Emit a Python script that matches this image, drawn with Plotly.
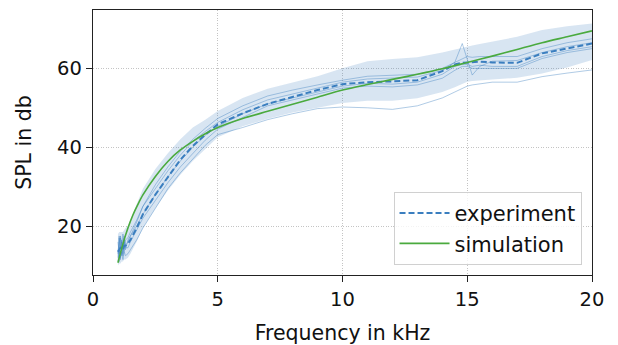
import plotly.graph_objects as go

# frequency grid (kHz) for measured data
freq = [1.0, 1.05, 1.1, 1.15, 1.2, 1.25, 1.3, 1.4, 1.5, 1.75, 2.0, 2.5, 3.0, 3.5, 4.0, 4.5,
        5.0, 6.0, 7.0, 8.0, 9.0, 10.0, 11.0, 12.0, 13.0, 14.0, 14.5, 14.8, 15.0, 15.2,
        15.5, 16.0, 17.0, 18.0, 19.0, 20.0]

# individual measurements (SPL in db)
meas_1 = [12.0, 17.5, 11.5, 16.0, 12.5, 17.0, 14.0, 16.5, 17.5, 21.0, 25.0, 30.5, 35.0, 39.0, 42.0, 44.8,
          47.3, 50.5, 53.0, 54.5, 55.8, 57.0, 58.0, 58.3, 58.5, 60.0, 61.5, 62.5, 63.0, 62.8,
          63.0, 63.0, 63.0, 65.0, 66.5, 67.5]
meas_2 = [14.0, 11.0, 17.0, 12.5, 18.0, 13.5, 16.5, 17.0, 18.5, 21.5, 25.0, 29.5, 34.0, 38.0, 41.5, 44.0,
          46.3, 49.5, 52.0, 53.5, 55.0, 56.5, 57.3, 57.5, 57.8, 59.5, 61.5, 66.3, 62.0, 58.3,
          60.5, 61.8, 62.0, 64.0, 65.5, 66.5]
meas_3 = [16.0, 13.0, 17.5, 15.0, 14.0, 17.5, 15.0, 16.0, 17.5, 20.0, 23.0, 28.0, 32.5, 36.5, 40.0, 43.0,
          45.3, 48.5, 51.0, 52.5, 54.0, 55.5, 56.2, 56.0, 56.5, 58.5, 60.5, 61.0, 61.0, 60.5,
          60.8, 60.5, 60.5, 63.0, 64.5, 65.5]
meas_4 = [13.0, 17.0, 14.5, 16.5, 13.0, 16.0, 14.5, 14.5, 16.0, 19.0, 22.0, 26.5, 31.0, 35.0, 38.5, 41.8,
          44.6, 47.5, 50.5, 52.0, 53.5, 55.0, 55.5, 55.3, 55.8, 57.5, 59.5, 60.5, 60.5, 60.0,
          60.0, 60.0, 60.0, 62.5, 64.0, 65.0]
meas_5 = [11.0, 14.0, 12.0, 13.5, 11.5, 13.5, 12.5, 13.0, 14.0, 16.5, 19.5, 24.5, 29.5, 33.5, 37.0, 40.5,
          43.2, 45.0, 47.0, 48.5, 49.8, 50.2, 50.0, 49.6, 50.5, 52.5, 54.0, 55.0, 55.5, 55.8,
          56.0, 56.5, 56.5, 57.9, 58.8, 59.6]

# mean of the experiment and spread band
exp_mean = [13.5, 14.0, 14.5, 14.5, 14.0, 15.0, 15.0, 15.5, 16.5, 19.5, 23.0, 28.0, 32.5, 36.8, 40.3, 43.2,
            45.8, 48.6, 51.0, 52.8, 54.5, 56.0, 56.5, 56.7, 57.0, 59.3, 61.0, 61.4, 61.5, 61.5,
            61.7, 61.5, 61.4, 63.8, 65.0, 66.3]
band_upper = [18.0, 18.5, 18.5, 18.5, 18.5, 19.0, 19.5, 20.0, 21.5, 25.5, 29.5, 34.5, 38.5, 42.0, 45.0, 47.0,
              49.2, 52.5, 54.8, 56.4, 58.0, 60.0, 61.8, 62.4, 62.8, 64.0, 64.8, 65.3, 65.5, 65.8,
              66.2, 66.8, 68.0, 69.7, 70.7, 71.4]
band_lower = [10.0, 10.5, 10.5, 11.0, 11.0, 11.5, 11.5, 12.0, 13.0, 16.0, 19.5, 24.5, 29.0, 33.0, 36.5, 39.5,
              42.5, 45.3, 47.2, 48.8, 50.0, 51.2, 51.8, 51.8, 52.4, 54.0, 55.2, 56.0, 56.6, 56.8,
              57.0, 57.2, 57.6, 58.7, 60.2, 62.1]

# simulation
sim_freq = [1.0, 1.2, 1.4, 1.6, 1.8, 2.0, 2.5, 3.0, 3.5, 4.0, 4.5, 5.0, 6.0, 7.0, 8.0, 9.0, 10.0,
            11.0, 12.0, 13.0, 14.0, 15.0, 16.0, 17.0, 18.0, 19.0, 20.0]
sim_spl = [10.7, 15.5, 19.5, 22.8, 25.5, 27.9, 32.6, 36.4, 39.3, 41.5, 43.4, 45.0, 47.3, 49.1, 50.9, 52.7,
           54.5, 55.9, 57.2, 58.5, 59.9, 61.5, 63.1, 64.8, 66.5, 68.0, 69.5]

x_ticks = [0, 5, 10, 15, 20]
y_ticks = [20, 40, 60]

BLUE = "#3a7ebf"
fig = go.Figure()

fig.add_trace(go.Scatter(x=freq, y=band_upper, mode="lines", line=dict(width=0, color=BLUE),
                         showlegend=False, hoverinfo="skip"))
fig.add_trace(go.Scatter(x=freq, y=band_lower, mode="lines", line=dict(width=0, color=BLUE),
                         fill="tonexty", fillcolor="rgba(58,126,191,0.2)", showlegend=False,
                         hoverinfo="skip"))
for m in [meas_1, meas_2, meas_3, meas_4, meas_5]:
    fig.add_trace(go.Scatter(x=freq, y=m, mode="lines", line=dict(width=0.8, color="rgba(58,126,191,0.5)"),
                             showlegend=False))

fig.add_trace(go.Scatter(x=freq, y=exp_mean, mode="lines", name="experiment",
                         line=dict(width=2, color=BLUE, dash="6px,3px")))
fig.add_trace(go.Scatter(x=sim_freq, y=sim_spl, mode="lines", name="simulation",
                         line=dict(width=1.6, color="#4aaa3e", shape="spline", smoothing=0.8)))

FONT = "DejaVu Sans"
axis_common = dict(
    showline=True, linecolor="#222", linewidth=1.3, mirror=True,
    ticks="outside", ticklen=6, tickwidth=1.3, tickcolor="#222",
    showgrid=True, gridcolor="#c4c4c4", griddash="1px,1.5px", gridwidth=0.8,
    zeroline=False, tickfont=dict(family=FONT, size=19.5, color="#111"),
)
fig.update_xaxes(range=[0, 20], tickvals=x_ticks,
                 title=dict(text="Frequency in kHz", font=dict(family=FONT, size=20.5, color="#111"), standoff=16),
                 **axis_common)
fig.update_yaxes(range=[7.6, 74.8], tickvals=y_ticks,
                 title=dict(text="SPL in db", font=dict(family=FONT, size=20.5, color="#111"), standoff=19),
                 **axis_common)

fig.update_layout(
    width=618, height=345,
    margin=dict(l=92.5, r=25.5, t=10, b=70, autoexpand=False),
    plot_bgcolor="white", paper_bgcolor="white",
    legend=dict(x=0.979, y=0.038, xanchor="right", yanchor="bottom", traceorder="normal",
                bgcolor="rgba(255,255,255,0.8)", bordercolor="#d0d0d0", borderwidth=1,
                itemwidth=50,
                font=dict(family=FONT, size=21, color="#111"), tracegroupgap=0),
)

fig.write_html("out.html")
